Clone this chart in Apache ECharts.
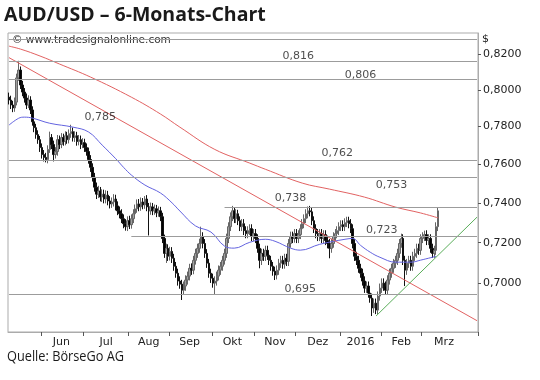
<!DOCTYPE html>
<html><head><meta charset="utf-8">
<script src="https://cdn.jsdelivr.net/npm/echarts@6/dist/echarts.min.js"></script>
<style>html,body{margin:0;padding:0;background:#fff}#c{width:540px;height:380px}</style>
</head><body><div id="c"></div>
<script>
// ---- data ----
const openP = [0.7960,0.7944,0.7917,0.7901,0.7933,0.8066,0.8110,0.8027,0.7988,0.7955,0.7917,0.7944,0.7890,0.7826,0.7794,0.7757,0.7730,0.7688,0.7651,0.7636,
0.7625,0.7678,0.7741,0.7704,0.7651,0.7667,0.7730,0.7704,0.7741,0.7720,0.7751,0.7730,0.7762,0.7773,0.7741,0.7751,0.7720,0.7730,0.7704,0.7714,
0.7688,0.7667,0.7625,0.7584,0.7532,0.7481,0.7445,0.7461,0.7430,0.7445,0.7420,0.7440,0.7410,0.7395,0.7405,0.7420,0.7385,0.7360,0.7345,0.7320,
0.7295,0.7280,0.7310,0.7290,0.7320,0.7345,0.7370,0.7395,0.7380,0.7405,0.7390,0.7420,0.7380,0.7360,0.7380,0.7360,0.7370,0.7350,0.7360,0.7330,
0.7221,0.7147,0.7172,0.7133,0.7157,0.7123,0.7084,0.7050,0.7012,0.6997,0.6968,0.6988,0.7017,0.7036,0.7074,0.7065,0.7113,0.7147,0.7172,0.7196,
0.7231,0.7196,0.7147,0.7099,0.7050,0.7026,0.7002,0.7012,0.7036,0.7065,0.7084,0.7113,0.7147,0.7221,0.7280,0.7330,0.7360,0.7320,0.7345,0.7310,
0.7280,0.7295,0.7260,0.7245,0.7260,0.7270,0.7231,0.7245,0.7221,0.7172,0.7113,0.7147,0.7133,0.7162,0.7138,0.7113,0.7084,0.7060,0.7041,0.7065,
0.7099,0.7113,0.7094,0.7123,0.7108,0.7196,0.7231,0.7221,0.7245,0.7221,0.7240,0.7270,0.7295,0.7320,0.7345,0.7360,0.7355,0.7310,0.7270,0.7245,
0.7231,0.7245,0.7221,0.7240,0.7211,0.7196,0.7172,0.7196,0.7231,0.7245,0.7260,0.7280,0.7290,0.7280,0.7300,0.7310,0.7295,0.7270,0.7196,0.7133,
0.7113,0.7074,0.7050,0.7012,0.6978,0.6988,0.6954,0.6930,0.6883,0.6906,0.6873,0.6940,0.6978,0.7002,0.6988,0.6968,0.7017,0.7050,0.7074,0.7099,
0.7113,0.7147,0.7196,0.7221,0.7113,0.7065,0.7099,0.7113,0.7084,0.7133,0.7147,0.7172,0.7162,0.7221,0.7231,0.7240,0.7211,0.7221,0.7172,0.7147,
0.7162,0.7280];
const closeP = [0.7944,0.7917,0.7901,0.7933,0.8066,0.8110,0.8027,0.7988,0.7955,0.7917,0.7944,0.7890,0.7826,0.7794,0.7757,0.7730,0.7688,0.7651,0.7636,0.7625,
0.7678,0.7741,0.7704,0.7651,0.7667,0.7730,0.7704,0.7741,0.7720,0.7751,0.7730,0.7762,0.7773,0.7741,0.7751,0.7720,0.7730,0.7704,0.7714,0.7688,
0.7667,0.7625,0.7584,0.7532,0.7481,0.7445,0.7461,0.7430,0.7445,0.7420,0.7440,0.7410,0.7395,0.7405,0.7420,0.7385,0.7360,0.7345,0.7320,0.7295,
0.7280,0.7310,0.7290,0.7320,0.7345,0.7370,0.7395,0.7380,0.7405,0.7390,0.7420,0.7380,0.7360,0.7380,0.7360,0.7370,0.7350,0.7360,0.7330,0.7221,
0.7147,0.7172,0.7133,0.7157,0.7123,0.7084,0.7050,0.7012,0.6997,0.6968,0.6988,0.7017,0.7036,0.7074,0.7065,0.7113,0.7147,0.7172,0.7196,0.7231,
0.7196,0.7147,0.7099,0.7050,0.7026,0.7002,0.7012,0.7036,0.7065,0.7084,0.7113,0.7147,0.7221,0.7280,0.7330,0.7360,0.7320,0.7345,0.7310,0.7280,
0.7295,0.7260,0.7245,0.7260,0.7270,0.7231,0.7245,0.7221,0.7172,0.7113,0.7147,0.7133,0.7162,0.7138,0.7113,0.7084,0.7060,0.7041,0.7065,0.7099,
0.7113,0.7094,0.7123,0.7108,0.7196,0.7231,0.7221,0.7245,0.7221,0.7240,0.7270,0.7295,0.7320,0.7345,0.7360,0.7355,0.7310,0.7270,0.7245,0.7231,
0.7245,0.7221,0.7240,0.7211,0.7196,0.7172,0.7196,0.7231,0.7245,0.7260,0.7280,0.7290,0.7280,0.7300,0.7310,0.7295,0.7270,0.7196,0.7133,0.7113,
0.7074,0.7050,0.7012,0.6978,0.6988,0.6954,0.6930,0.6883,0.6906,0.6873,0.6940,0.6978,0.7002,0.6988,0.6968,0.7017,0.7050,0.7074,0.7099,0.7113,
0.7147,0.7196,0.7221,0.7113,0.7065,0.7099,0.7113,0.7084,0.7133,0.7147,0.7172,0.7162,0.7221,0.7231,0.7240,0.7211,0.7221,0.7172,0.7147,0.7162,
0.7280,0.7360];
const lowP = [0.7920,0.7895,0.7878,0.7880,0.7915,0.8050,0.8005,0.7965,0.7930,0.7895,0.7900,0.7868,0.7805,0.7770,0.7735,0.7708,0.7665,0.7630,0.7615,0.7610,
0.7605,0.7660,0.7680,0.7615,0.7630,0.7645,0.7680,0.7685,0.7698,0.7700,0.7708,0.7710,0.7740,0.7720,0.7718,0.7698,0.7700,0.7680,0.7685,0.7665,
0.7645,0.7603,0.7560,0.7510,0.7458,0.7420,0.7425,0.7408,0.7405,0.7398,0.7398,0.7388,0.7372,0.7375,0.7382,0.7362,0.7338,0.7322,0.7298,0.7272,
0.7260,0.7258,0.7268,0.7270,0.7298,0.7325,0.7350,0.7358,0.7360,0.7368,0.7370,0.7358,0.7236,0.7340,0.7338,0.7340,0.7328,0.7330,0.7308,0.7198,
0.7125,0.7100,0.7110,0.7112,0.7100,0.7062,0.7028,0.6990,0.6975,0.6921,0.6945,0.6965,0.6995,0.7015,0.7042,0.7045,0.7092,0.7125,0.7150,0.7175,
0.7172,0.7125,0.7076,0.7028,0.7003,0.6980,0.6949,0.6990,0.7015,0.7042,0.7062,0.7092,0.7125,0.7198,0.7258,0.7308,0.7298,0.7298,0.7288,0.7258,
0.7258,0.7238,0.7222,0.7222,0.7238,0.7208,0.7208,0.7198,0.7150,0.7074,0.7090,0.7110,0.7110,0.7115,0.7090,0.7062,0.7038,0.7017,0.7020,0.7042,
0.7076,0.7072,0.7072,0.7085,0.7085,0.7175,0.7198,0.7200,0.7198,0.7198,0.7218,0.7248,0.7272,0.7298,0.7322,0.7332,0.7288,0.7248,0.7222,0.7208,
0.7208,0.7198,0.7198,0.7188,0.7172,0.7123,0.7150,0.7175,0.7208,0.7222,0.7238,0.7258,0.7258,0.7258,0.7278,0.7272,0.7248,0.7172,0.7110,0.7090,
0.7052,0.7028,0.6990,0.6955,0.6955,0.6932,0.6908,0.6845,0.6860,0.6854,0.6852,0.6918,0.6955,0.6965,0.6945,0.6945,0.6995,0.7028,0.7052,0.7076,
0.7090,0.7125,0.7175,0.7090,0.6988,0.7042,0.7076,0.7062,0.7062,0.7110,0.7125,0.7140,0.7140,0.7198,0.7208,0.7188,0.7188,0.7150,0.7125,0.7125,
0.7140,0.7258];
const highP = [0.7985,0.7968,0.7940,0.7958,0.8090,0.8162,0.8130,0.8050,0.8010,0.7980,0.7970,0.7965,0.7910,0.7850,0.7815,0.7780,0.7750,0.7710,0.7675,0.7660,
0.7700,0.7773,0.7760,0.7725,0.7690,0.7755,0.7752,0.7765,0.7762,0.7775,0.7772,0.7785,0.7810,0.7795,0.7775,0.7772,0.7755,0.7752,0.7738,0.7735,
0.7710,0.7688,0.7648,0.7605,0.7555,0.7505,0.7488,0.7482,0.7470,0.7468,0.7465,0.7462,0.7435,0.7428,0.7445,0.7442,0.7408,0.7382,0.7368,0.7342,
0.7318,0.7332,0.7335,0.7342,0.7368,0.7392,0.7418,0.7420,0.7428,0.7425,0.7435,0.7440,0.7400,0.7402,0.7400,0.7392,0.7390,0.7382,0.7380,0.7350,
0.7240,0.7195,0.7192,0.7180,0.7178,0.7145,0.7105,0.7072,0.7035,0.7018,0.7010,0.7040,0.7058,0.7096,0.7098,0.7135,0.7170,0.7195,0.7220,0.7280,
0.7252,0.7218,0.7168,0.7120,0.7072,0.7048,0.7035,0.7058,0.7088,0.7105,0.7135,0.7170,0.7245,0.7302,0.7352,0.7385,0.7375,0.7368,0.7365,0.7332,
0.7318,0.7318,0.7282,0.7282,0.7292,0.7292,0.7268,0.7268,0.7242,0.7195,0.7170,0.7170,0.7185,0.7185,0.7160,0.7135,0.7105,0.7082,0.7088,0.7120,
0.7135,0.7135,0.7145,0.7145,0.7218,0.7255,0.7255,0.7268,0.7268,0.7262,0.7292,0.7318,0.7342,0.7368,0.7382,0.7385,0.7378,0.7332,0.7292,0.7268,
0.7268,0.7268,0.7262,0.7262,0.7235,0.7218,0.7218,0.7252,0.7268,0.7282,0.7302,0.7312,0.7312,0.7322,0.7330,0.7330,0.7318,0.7292,0.7218,0.7155,
0.7135,0.7096,0.7072,0.7035,0.7010,0.7010,0.6975,0.6952,0.6928,0.6928,0.6962,0.7000,0.7025,0.7025,0.7010,0.7040,0.7072,0.7096,0.7120,0.7135,
0.7170,0.7218,0.7245,0.7242,0.7135,0.7120,0.7135,0.7135,0.7155,0.7170,0.7195,0.7195,0.7242,0.7252,0.7260,0.7262,0.7242,0.7242,0.7195,0.7185,
0.7302,0.7375];
// moving averages, knots [tradingDayIndex, value]
const ma50 = [[0,0.7808],[5,0.7845],[8,0.7851],[12,0.7846],[21,0.7818],[33,0.7797],[41,0.7771],[48,0.7701],[55,0.7629],[59,0.7584],
[63,0.7544],[70,0.7492],[78,0.7451],[84,0.7400],[88,0.7359],[96,0.7284],[104,0.7253],[111,0.7183],[116,0.7173],[124,0.7202],
[132,0.7217],[137,0.7207],[145,0.7173],[150,0.7163],[160,0.7192],[173,0.7217],[177,0.7221],[181,0.7187],[186,0.7153],[191,0.7128],
[199,0.7104],[207,0.7104],[212,0.7114],[220,0.7133]];
const ma200 = [[0,0.8245],[6,0.8228],[16,0.8189],[26,0.8144],[42,0.8071],[63,0.7960],[78,0.7868],[88,0.7797],[106,0.7678],[124,0.7606],
[132,0.7574],[151,0.7502],[165,0.7471],[183,0.7430],[199,0.7379],[212,0.7349],[221,0.7324]];
const trendDown = [[0,0.8180],[241,0.6823]];
const trendUp = [[189,0.6845],[241,0.7328]];
const levelValues = [0.8285,0.816,0.806,0.762,0.753,0.738,0.723,0.695];
const levelStartIdx = [0,0,0,0,0,111,63,0];
const annotValues = [0.816,0.806,0.785,0.762,0.753,0.738,0.723,0.695];
const annotIdx = [149,181,47,169,197,145,192,150];
const annotDy = [-5,-4,0,-7,7,-9,-7,-5];
const yTicks = [0.70,0.72,0.74,0.76,0.78,0.80,0.82];
const monthNames = ['2016','Feb','Mrz','Apr','Mai','Jun','Jul','Aug','Sep','Okt','Nov','Dez'];

// trading-day categories
const dates = [];
(function(){ const d = new Date(Date.UTC(2015,4,7));
  while (dates.length < 242) { const w = d.getUTCDay(); if (w!==0 && w!==6) dates.push(d.toISOString().slice(0,10)); d.setUTCDate(d.getUTCDate()+1); } })();
const monthStart = new Set(), monthLabel = {};
(function(){
  const groups = [];
  dates.forEach((s,i)=>{ const k = s.slice(0,7); if (!groups.length || groups[groups.length-1].k!==k) groups.push({k, s:i, n:0}); groups[groups.length-1].n++; });
  groups.forEach(g=>{ const m = +g.k.slice(5,7); const y = +g.k.slice(0,4);
    const inRange = (y===2015 && m>=6) || (y===2016 && m<=3);
    if (inRange) { monthStart.add(g.s); monthLabel[g.s + Math.floor((g.n-1)/2)] = monthNames[m-1]; } });
})();
const candles = openP.map((o,i)=>[o, closeP[i], lowP[i], highP[i]]);

const FONT = 'DejaVu Sans';
const lastIdx = dates.length - 1;
const levelMarks = levelValues.map((v,i)=> [{coord:[levelStartIdx[i], v]}, {coord:[lastIdx, v]}]);
const chart = echarts.init(document.getElementById('c'), null, {renderer:'canvas'});
chart.setOption({
  animation:false,
  backgroundColor:'#fff',
  grid:{left:8,right:62,top:33,bottom:48,show:true,borderColor:'#ababab',borderWidth:1},
  xAxis:{type:'category',data:dates,boundaryGap:true,
    axisLine:{show:true,lineStyle:{color:'#ababab'}},
    axisTick:{show:true,length:4,interval:(i)=>monthStart.has(i),lineStyle:{color:'#555'}},
    axisLabel:{interval:(i)=>monthLabel[i]!==undefined,formatter:(v,i)=>monthLabel[i]||'',
      color:'#222',fontFamily:FONT,fontSize:11,margin:5},
    splitLine:{show:false}},
  yAxis:{type:'log',logBase:10,min:0.6770,max:0.8320,position:'right',
    axisLine:{show:true,lineStyle:{color:'#ababab'}},
    axisTick:{show:true,length:3,customValues:yTicks,lineStyle:{color:'#555'}},
    axisLabel:{customValues:yTicks,formatter:(v)=>v.toFixed(4).replace('.',','),color:'#222',fontFamily:FONT,fontSize:11,margin:5},
    splitLine:{show:false}},
  graphic:[
    {type:'text',left:4,top:5,style:{text:'AUD/USD – 6-Monats-Chart',font:'bold 19.5px "Open Sans"',fill:'#1a1a1a'}},
    {type:'text',left:12,top:35,style:{text:'© www.tradesignalonline.com',font:'10.5px "DejaVu Sans"',fill:'#333'}},
    {type:'text',left:482,top:34,style:{text:'$',font:'11px "DejaVu Sans"',fill:'#222'}},
    {type:'text',left:7,top:349,scaleX:0.85,originX:0,style:{text:'Quelle: BörseGo AG',font:'15px "Open Sans"',fill:'#1a1a1a'}}
  ],
  series:[
    {name:'AUD/USD',type:'candlestick',data:candles,barWidth:2,
      itemStyle:{color:'#a0a0a0',color0:'#000',borderColor:'#666',borderColor0:'#111',borderWidth:1},
      markLine:{silent:true,symbol:['none','none'],label:{show:false},
        lineStyle:{color:'#9c9c9c',width:1,type:'solid'},data:levelMarks},
      z:3},
    {name:'GD200',type:'line',data:ma200,smooth:0.4,showSymbol:false,lineStyle:{color:'#e26262',width:1},z:4},
    {name:'GD50',type:'line',data:ma50,smooth:0.4,showSymbol:false,lineStyle:{color:'#6464e0',width:1},z:4},
    {name:'Trend',type:'line',data:trendDown,showSymbol:false,lineStyle:{color:'#e26262',width:1},z:4},
    {name:'Support',type:'line',data:trendUp,showSymbol:false,lineStyle:{color:'#5aae5a',width:1},z:4},
    {name:'levels',type:'scatter',symbolSize:0,z:5,
      data:annotValues.map((v,i)=>[annotIdx[i], v]),
      label:{show:true,position:'inside',color:'#222',fontFamily:FONT,fontSize:11,
        formatter:(p)=>annotValues[p.dataIndex].toFixed(3).replace('.',','),
        offset:[0,0]},
      labelLayout:(p)=>({dy:annotDy[p.dataIndex]})}
  ]
});
</script></body></html>
